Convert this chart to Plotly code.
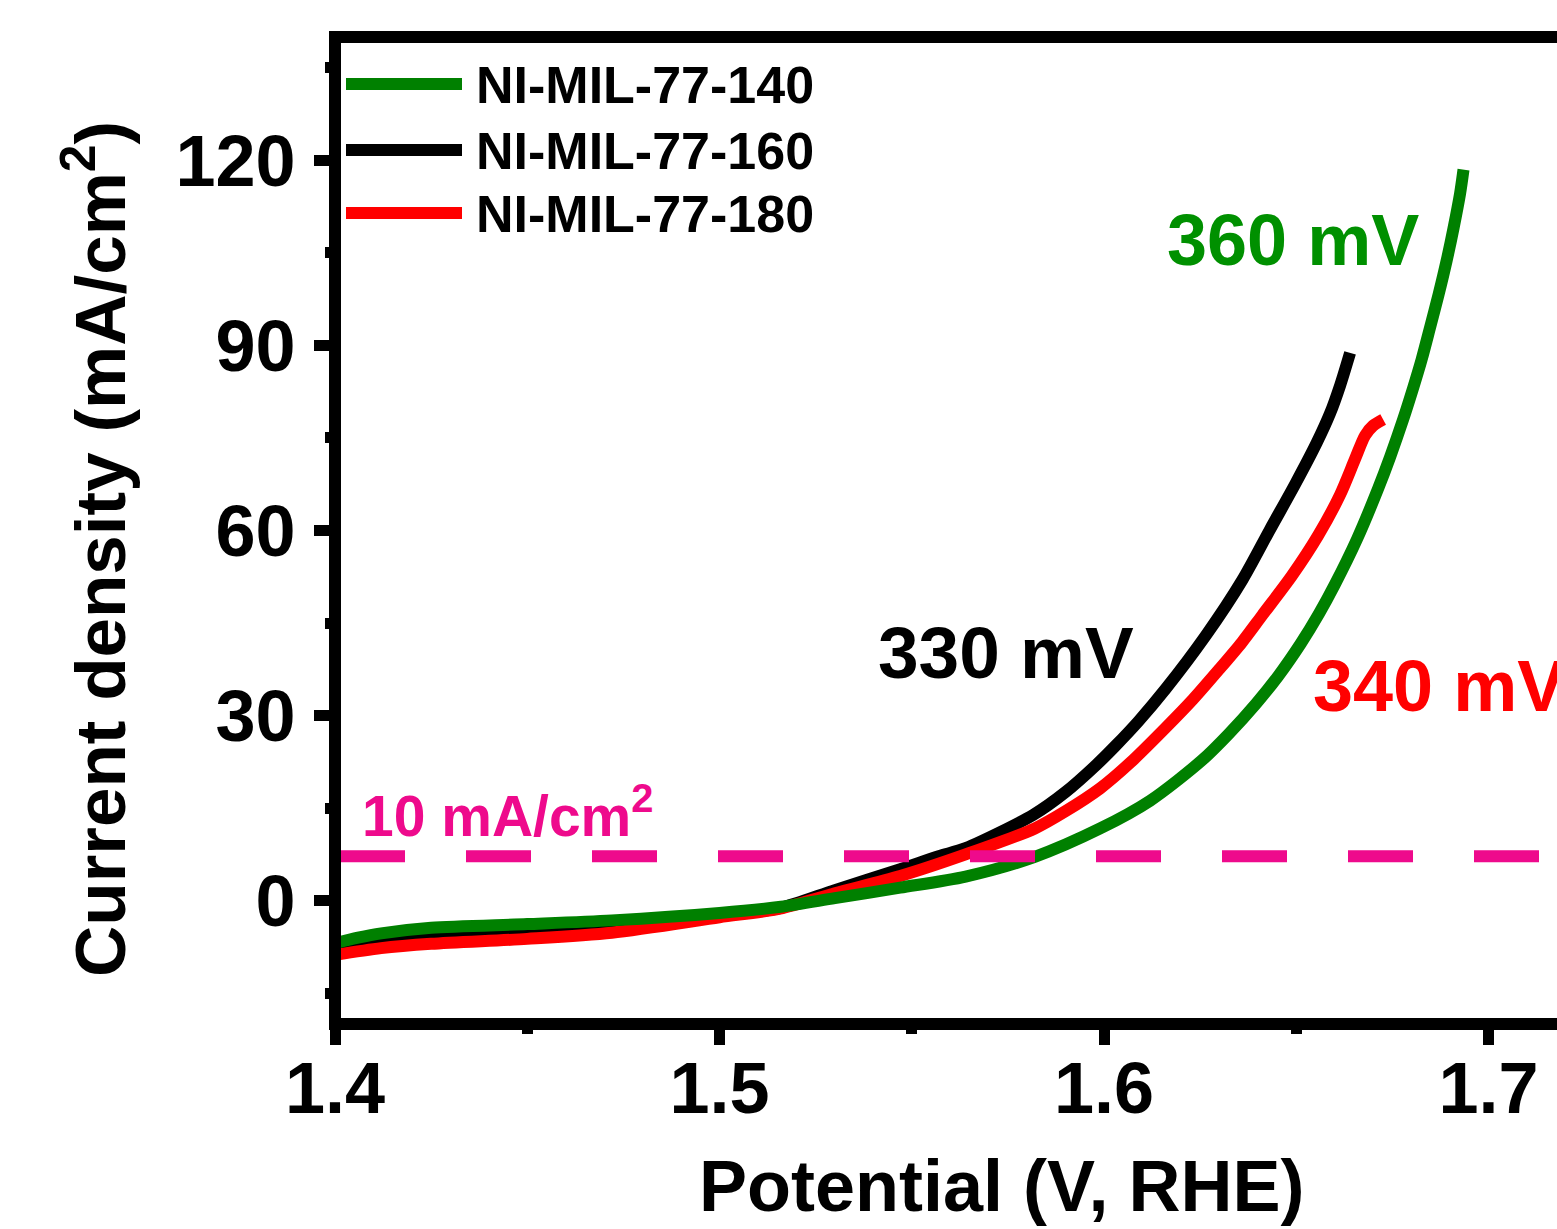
import plotly.graph_objects as go

# ---------------- data ----------------
V_140 = [1.400, 1.406, 1.412, 1.425, 1.450, 1.472, 1.500, 1.516, 1.530, 1.547, 1.564,
         1.582, 1.599, 1.612, 1.6254, 1.6324, 1.6395, 1.6453, 1.6512, 1.6559, 1.660,
         1.6658, 1.6713, 1.6744, 1.6778, 1.6804, 1.6826, 1.6848, 1.687, 1.6891, 1.6909,
         1.6926, 1.6935]
J_140 = [-6.9, -6.0, -5.3, -4.4, -3.8, -3.2, -2.0, -1.0, 0.4, 2.1, 3.9,
         7.1, 11.7, 16.2, 22.7, 27.0, 31.9, 36.4, 41.7, 46.5, 51.2,
         58.6, 66.8, 71.9, 78.0, 83.1, 87.7, 92.9, 98.2, 103.7, 109.0,
         114.6, 118.5]

V_160 = [1.400, 1.412, 1.425, 1.450, 1.472, 1.500, 1.5157, 1.530, 1.547, 1.557, 1.564,
         1.5816, 1.590, 1.598, 1.603, 1.609, 1.616, 1.6265, 1.636, 1.6432, 1.6497,
         1.6553, 1.6588, 1.6614, 1.664]
J_160 = [-7.6, -6.1, -5.3, -4.6, -3.9, -2.4, -1.2, 1.7, 5.1, 7.2, 8.5,
         13.9, 17.6, 22.0, 25.1, 29.1, 34.3, 43.0, 52.0, 60.2, 67.5,
         74.2, 79.0, 83.5, 88.8]

V_180 = [1.400, 1.412, 1.425, 1.450, 1.472, 1.500, 1.5157, 1.530, 1.547, 1.564, 1.582,
         1.590, 1.599, 1.6069, 1.616, 1.6231, 1.6301, 1.6359, 1.6412, 1.6489, 1.6557,
         1.6614, 1.6653, 1.6679, 1.670, 1.6726]
J_180 = [-8.8, -7.7, -7.0, -6.2, -5.2, -2.7, -1.3, 1.2, 4.0, 7.5, 11.7,
         14.5, 18.2, 22.4, 28.0, 32.6, 37.6, 41.9, 46.3, 52.7, 59.2,
         65.8, 71.6, 75.4, 77.0, 78.0]

names = ["NI-MIL-77-140", "NI-MIL-77-160", "NI-MIL-77-180"]
line_colors = ["#008000", "#000000", "#FF0000"]
overpotentials = ["360 mV", "330 mV", "340 mV"]
ref_current = 7.2          # level of the dashed reference line (as drawn)
ref_label = "10 mA/cm<sup>2</sup>"

x_tickvals = [1.4, 1.5, 1.6, 1.7]
y_tickvals = [0, 30, 60, 90, 120]

# ---------------- layout geometry ----------------
W, H = 1557, 1229
L, R, T, B = 335, 0, 37, 205
PW, PH = W - L - R, H - T - B
X0 = 1.4
X1 = 1.4 + PW / 3845.0
Y0, Y1 = -20, 140

def xp(px):
    return (px - L) / PW

def yp(py):
    return (H - B - py) / PH

FONT = "Liberation Sans, Arial, sans-serif"
PINK = "#EE0A8C"

fig = go.Figure()

# draw order: black, red, green (green on top)
order = [1, 2, 0]
series = [(V_140, J_140), (V_160, J_160), (V_180, J_180)]
for i in order:
    vx, jy = series[i]
    fig.add_trace(go.Scatter(
        x=vx, y=jy, mode="lines", name=names[i], showlegend=False,
        line=dict(color=line_colors[i], width=12, shape="spline", smoothing=0.8),
    ))

shapes = []
# dashed reference line
shapes.append(dict(type="line", xref="paper", yref="y", x0=xp(340), x1=1,
                   y0=ref_current, y1=ref_current,
                   line=dict(color=PINK, width=12, dash="65px,61px"), layer="above"))
# frame (left, bottom, top) centred on plot edges
shapes.append(dict(type="rect", xref="paper", yref="paper", x0=0, x1=1.08, y0=0, y1=1,
                   line=dict(color="black", width=12), fillcolor="rgba(0,0,0,0)",
                   layer="above"))
# legend line samples
leg_y = [84, 150, 213]
for k in range(3):
    shapes.append(dict(type="line", xref="paper", yref="paper",
                       x0=xp(346), x1=xp(462), y0=yp(leg_y[k]), y1=yp(leg_y[k]),
                       line=dict(color=line_colors[k], width=12)))

annotations = []
for k in range(3):
    annotations.append(dict(text=names[k], xref="paper", yref="paper",
                            x=xp(474), y=yp(leg_y[k] + 1), xanchor="left", yanchor="middle",
                            showarrow=False,
                            font=dict(family=FONT, size=52, color="black", weight="bold")))
# overpotential labels
annotations.append(dict(text=overpotentials[0], xref="paper", yref="paper",
                        x=xp(1293), y=yp(240), xanchor="center", yanchor="middle",
                        showarrow=False,
                        font=dict(family=FONT, size=72, color="#009000", weight="bold")))
annotations.append(dict(text=overpotentials[1], xref="paper", yref="paper",
                        x=xp(1006), y=yp(652), xanchor="center", yanchor="middle",
                        showarrow=False,
                        font=dict(family=FONT, size=73, color="black", weight="bold")))
annotations.append(dict(text=overpotentials[2], xref="paper", yref="paper",
                        x=xp(1311), y=yp(686), xanchor="left", yanchor="middle",
                        showarrow=False,
                        font=dict(family=FONT, size=72, color="#FF0000", weight="bold")))
annotations.append(dict(text=ref_label, xref="paper", yref="paper",
                        x=xp(360), y=yp(812), xanchor="left", yanchor="middle",
                        showarrow=False,
                        font=dict(family=FONT, size=57, color=PINK, weight="bold")))
# axis titles
annotations.append(dict(text="Potential (V, RHE)", xref="paper", yref="paper",
                        x=xp(1001), y=yp(1186), xanchor="center", yanchor="middle",
                        showarrow=False,
                        font=dict(family=FONT, size=72, color="black", weight="bold")))
annotations.append(dict(text="Current density (mA/cm<sup>2</sup>)", xref="paper", yref="paper",
                        x=xp(95), y=yp(549), xanchor="center", yanchor="middle",
                        textangle=-90, showarrow=False,
                        font=dict(family=FONT, size=71, color="black", weight="bold")))

fig.update_layout(
    width=W, height=H,
    margin=dict(l=L, r=R, t=T, b=B, pad=0),
    paper_bgcolor="white", plot_bgcolor="white",
    showlegend=False,
    shapes=shapes, annotations=annotations,
    font=dict(family=FONT, color="black"),
)
fig.update_xaxes(
    range=[X0, X1], showgrid=False, zeroline=False, showline=False,
    tickmode="array", tickvals=x_tickvals, ticktext=[f"{v:.1f}" for v in x_tickvals],
    ticks="outside", ticklen=20, tickwidth=11, tickcolor="black",
    tickfont=dict(family=FONT, size=72, color="black", weight="bold"),
    ticklabelstandoff=-18,
    minor=dict(ticks="outside", ticklen=9, tickwidth=11, tickcolor="black",
               dtick=0.05, tick0=1.4),
)
fig.update_yaxes(
    range=[Y0, Y1], showgrid=False, zeroline=False, showline=False,
    tickmode="array", tickvals=y_tickvals, ticktext=[str(v) for v in y_tickvals],
    ticks="outside", ticklen=20, tickwidth=11, tickcolor="black",
    tickfont=dict(family=FONT, size=72, color="black", weight="bold"),
    ticklabelstandoff=4,
    minor=dict(ticks="outside", ticklen=9, tickwidth=11, tickcolor="black",
               dtick=15, tick0=0),
)

fig.write_html("out.html")
